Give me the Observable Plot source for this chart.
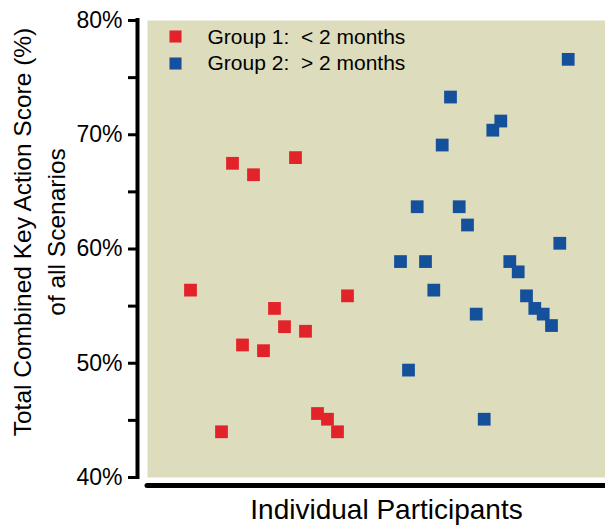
<!DOCTYPE html>
<html><head><meta charset="utf-8">
<script src="https://cdn.jsdelivr.net/npm/d3@7"></script>
<script src="https://cdn.jsdelivr.net/npm/@observablehq/plot@0.6"></script>
<style>body{margin:0;background:#fff;} svg text{white-space:pre;}</style>
</head><body><div id="chart"></div>
<script>
// Participant position along the x axis (arbitrary ordering units) and score (%)
const group1Position = [43, 74, 85, 95, 106, 116, 127, 137, 148, 158, 170, 180, 190, 200];
const group1Score    = [56.4, 44.0, 67.5, 51.6, 66.5, 51.1, 54.8, 53.2, 68.0, 52.8, 45.6, 45.1, 44.0, 55.9];
const group2Position = [253, 261, 269.7, 278, 286.3, 294.7, 303, 311.7, 320, 328.7, 336.7, 345.3, 353.3, 362.3, 370.7, 379, 387.3, 395.7, 404, 412.3, 420.7];
const group2Score    = [58.9, 49.4, 63.7, 58.9, 56.4, 69.1, 73.3, 63.7, 62.1, 54.3, 45.1, 70.4, 71.2, 58.9, 58.0, 55.9, 54.8, 54.3, 53.3, 60.5, 76.6];
const yTicks = [40, 45, 50, 55, 60, 65, 70, 75, 80];
const legendLabels = ["Group 1:  < 2 months", "Group 2:  > 2 months"];
const groupColors = ["#e2242a", "#15509b"];
const yTitleLines = ["Total Combined Key Action Score (%)", "of all Scenarios"];
const xTitle = "Individual Participants";

const g1 = group1Position.map((p, i) => ({pos: p, score: group1Score[i]}));
const g2 = group2Position.map((p, i) => ({pos: p, score: group2Score[i]}));
const font = "Liberation Sans, Arial, Helvetica, sans-serif";

const chart = Plot.plot({
  width: 605, height: 527,
  marginLeft: 147, marginRight: 0, marginTop: 20, marginBottom: 50,
  style: {fontFamily: font, background: "white", color: "black"},
  x: {domain: [0, 458], axis: null},
  y: {domain: [40, 80], axis: null},
  marks: [
    Plot.frame({fill: "#dddcbd", stroke: "none"}),
    Plot.ruleX([0], {y1: 40, y2: 80, dx: -10, strokeWidth: 4, strokeLinecap: "square"}),
    Plot.axisY({ticks: yTicks, tickSize: 9, tickPadding: 6, strokeWidth: 3, dx: -10, fontSize: 23, label: null,
      tickFormat: d => d % 10 === 0 ? d + "%" : ""}),
    Plot.ruleY([40], {dy: 8, strokeWidth: 5, strokeLinecap: "round"}),
    Plot.dot(g1, {x: "pos", y: "score", symbol: "square", r: 7.2, fill: groupColors[0]}),
    Plot.dot(g2, {x: "pos", y: "score", symbol: "square", r: 7.2, fill: groupColors[1]}),
    ...legendLabels.flatMap((lab, i) => [
      Plot.dot([lab], {frameAnchor: "top-left", dx: 28, dy: 16 + 27 * i, symbol: "square", r: 6.8, fill: groupColors[i]}),
      Plot.text([lab], {frameAnchor: "top-left", dx: 60, dy: 17 + 26 * i, text: d => d, textAnchor: "start", lineAnchor: "middle", fontSize: 21})
    ]),
    ...yTitleLines.map((t, i) => Plot.text([t], {frameAnchor: "left", text: d => d, rotate: -90, dx: -124 + 34 * i, dy: -17, fontSize: 24.5, textAnchor: "middle", lineAnchor: "middle"})),
    Plot.text([xTitle], {frameAnchor: "bottom", text: d => d, dy: 33, dx: 10, fontSize: 28, textAnchor: "middle", lineAnchor: "middle"})
  ]
});
document.getElementById("chart").appendChild(chart);
</script>
</body></html>
